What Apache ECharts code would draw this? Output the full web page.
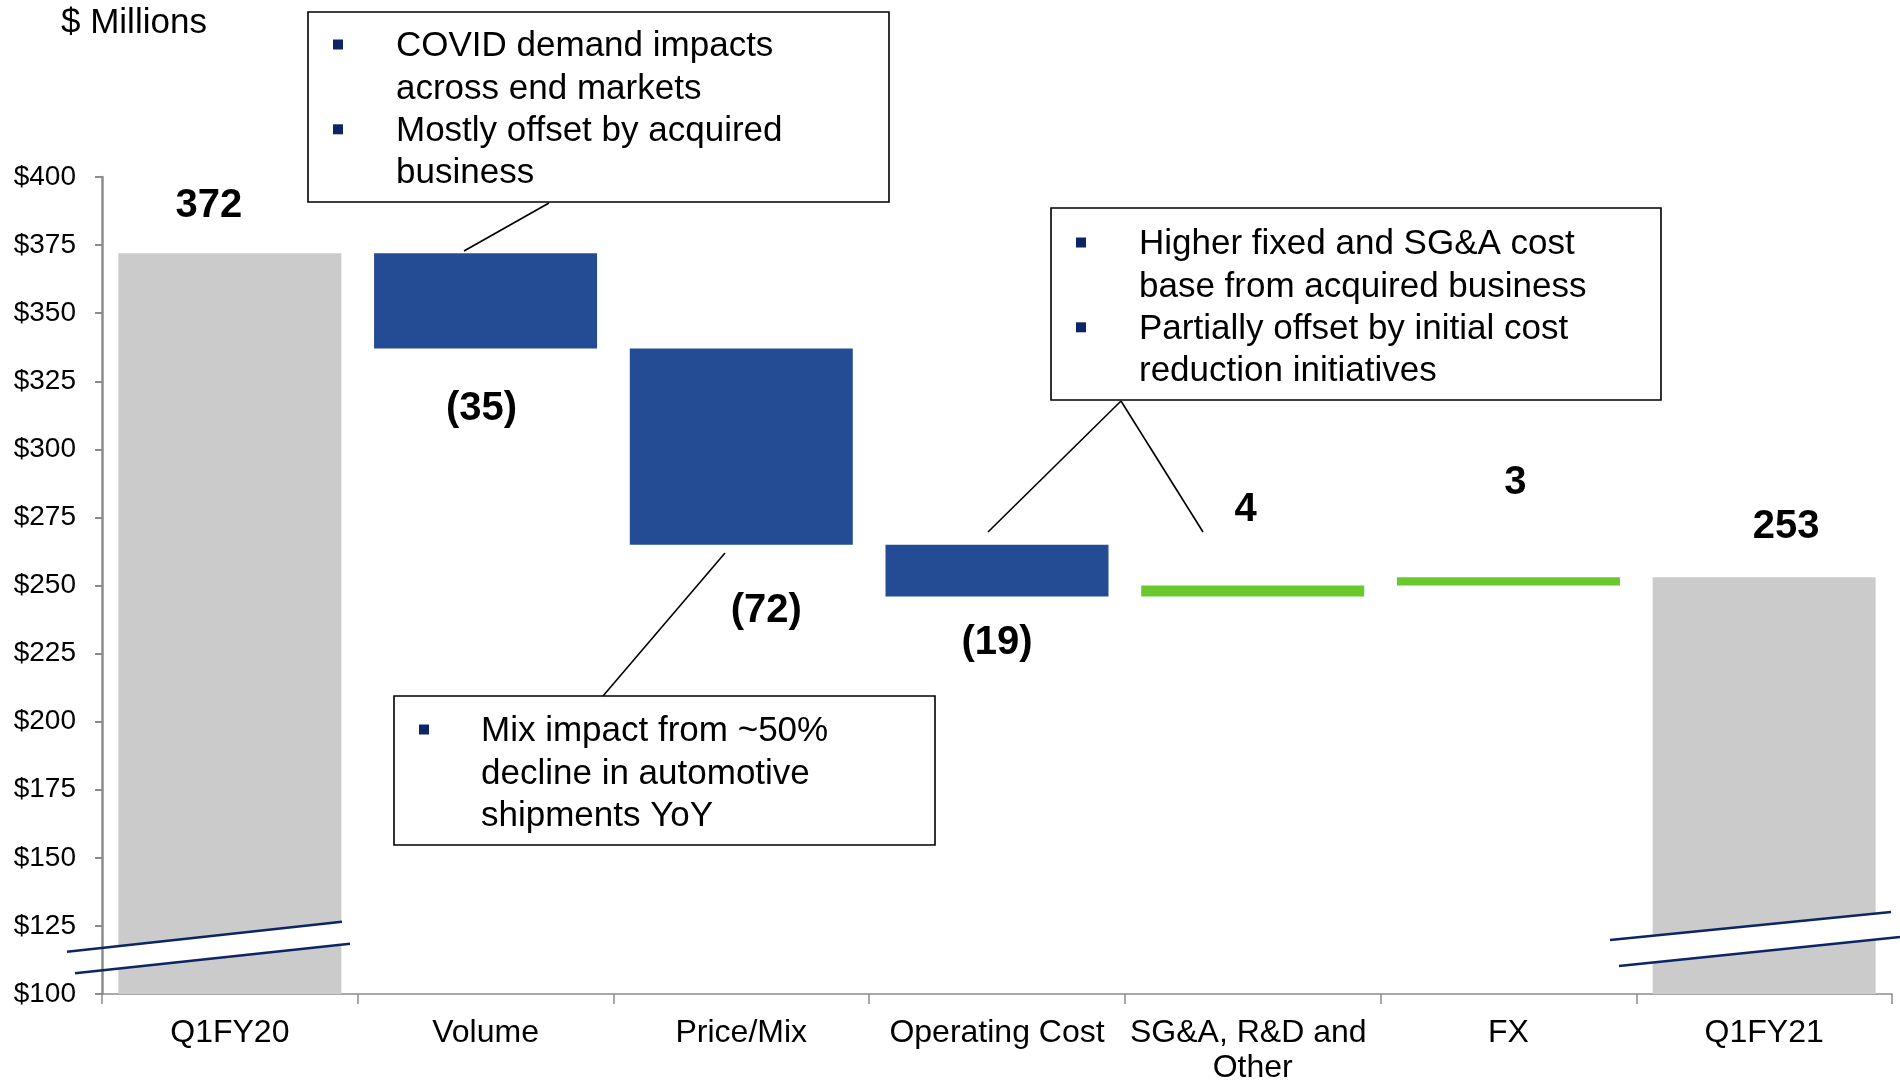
<!DOCTYPE html>
<html>
<head>
<meta charset="utf-8">
<script src="https://cdn.jsdelivr.net/npm/echarts@6/dist/echarts.min.js"></script>
<style>
html,body{margin:0;padding:0;background:#fff;}
#chart{width:1900px;height:1086px;}
</style>
</head>
<body>
<div id="chart"></div>
<script>
// ---- Data ----
const categories = ['Q1FY20', 'Volume', 'Price/Mix', 'Operating Cost', 'SG&A, R&D and Other', 'FX', 'Q1FY21'];
const kinds = ['total', 'delta', 'delta', 'delta', 'delta', 'delta', 'total'];
const values = [372, -35, -72, -19, 4, 3, 253];
const valueLabels = ['372', '(35)', '(72)', '(19)', '4', '3', '253'];
const yTicks = [100, 400, 25]; // min, max, interval
const unitTitle = '$ Millions';
const notes = [
  [['COVID demand impacts', 'across end markets'], ['Mostly offset by acquired', 'business']],
  [['Higher fixed and SG&A cost', 'base from acquired business'], ['Partially offset by initial cost', 'reduction initiatives']],
  [['Mix impact from ~50%', 'decline in automotive', 'shipments YoY']]
];

// ---- Styles ----
const FONT = '"Liberation Sans", Arial, sans-serif';
const GRAY = '#CBCBCB', BLUE = '#234C94', GREEN = '#68C82C', NAVY = '#0D2465';
// label nudges [dx, distance]
const labelNudge = [[-21, 27], [-4, 40], [25, 46], [0, 27], [-7, 56], [7, 74], [22, 30]];

// ---- Waterfall build ----
const baseData = [], barData = [];
let running = 0;
values.forEach((v, i) => {
  let lo, hi, color;
  if (kinds[i] === 'total') {
    lo = 0; hi = v; running = v; color = GRAY;
  } else {
    const next = running + v;
    lo = Math.min(running, next); hi = Math.max(running, next);
    running = next; color = v < 0 ? BLUE : GREEN;
  }
  baseData.push(lo);
  const below = kinds[i] === 'delta' && values[i] < 0;
  barData.push({
    value: hi - lo,
    itemStyle: { color: color },
    label: {
      show: true,
      position: below ? 'bottom' : 'top',
      distance: labelNudge[i][1],
      offset: [labelNudge[i][0], 0],
      formatter: valueLabels[i]
    }
  });
});

// ---- Annotation graphics ----
const graphics = [];
function addBox(x1, y1, x2, y2) {
  graphics.push({ type: 'rect', z: 100, shape: { x: x1, y: y1, width: x2 - x1, height: y2 - y1 },
    style: { fill: '#fff', stroke: '#000', lineWidth: 1.6 } });
}
function addLine(x1, y1, x2, y2, color, w) {
  graphics.push({ type: 'line', z: 101, shape: { x1, y1, x2, y2 }, style: { stroke: color || '#000', lineWidth: w || 1.6 } });
}
function addNote(items, bulletX, textX, firstY, lineH) {
  let y = firstY;
  items.forEach(lines => {
    graphics.push({ type: 'rect', z: 102, shape: { x: bulletX - 5, y: y - 7, width: 10, height: 10 }, style: { fill: NAVY } });
    lines.forEach(t => {
      graphics.push({ type: 'text', z: 102, style: { text: t, x: textX, y: y, fill: '#000', font: '35px ' + FONT, verticalAlign: 'middle', align: 'left' } });
      y += lineH;
    });
  });
}
addBox(308, 12, 889, 202);
addNote(notes[0], 338, 396, 46.5, 42.4);
addLine(549, 203, 464, 251);

addBox(1051, 208, 1661, 400);
addNote(notes[1], 1081, 1139, 244.5, 42.4);
addLine(1121, 401, 988, 532);
addLine(1121, 401, 1203, 532);

addBox(394, 696, 935, 845);
addNote(notes[2], 424, 481, 731.5, 42.4);
addLine(725, 553, 603, 696);

// unit title
graphics.push({ type: 'text', z: 102, style: { text: unitTitle, x: 61, y: 23, fill: '#000', font: '35px ' + FONT, verticalAlign: 'middle', align: 'left' } });

// axis break marks
graphics.push({ type: 'polygon', z: 90, shape: { points: [[104, 947.6], [346, 921.3], [346, 944.1], [104, 970.2]] }, style: { fill: '#fff' } });
addLine(67, 951.7, 342, 921.7, NAVY, 2.5);
addLine(75, 973.3, 350, 943.8, NAVY, 2.5);
graphics.push({ type: 'polygon', z: 90, shape: { points: [[1610, 940], [1900, 911], [1900, 937], [1619, 966]] }, style: { fill: '#fff' } });
addLine(1610, 940, 1891, 912, NAVY, 2.5);
addLine(1619, 966, 1900, 937, NAVY, 2.5);

// ---- Chart ----
const chart = echarts.init(document.getElementById('chart'), null, { renderer: 'canvas' });
chart.setOption({
  animation: false,
  backgroundColor: '#fff',
  grid: { left: 102, right: 8, top: 177, bottom: 92, containLabel: false },
  xAxis: {
    type: 'category',
    data: categories,
    axisLine: { lineStyle: { color: '#8C8C8C', width: 1.5 } },
    axisTick: { show: true, length: 10, lineStyle: { color: '#8C8C8C', width: 1.5 } },
    axisLabel: { color: '#000', fontSize: 32, fontFamily: FONT, margin: 22, interval: 0,
      width: 250, overflow: 'break', lineHeight: 35 }
  },
  yAxis: {
    type: 'value',
    min: yTicks[0], max: yTicks[1], interval: yTicks[2],
    splitLine: { show: false },
    axisLine: { show: true, lineStyle: { color: '#8C8C8C', width: 2.5 } },
    axisTick: { show: true, length: 7, lineStyle: { color: '#8C8C8C', width: 2 } },
    axisLabel: { color: '#000', fontSize: 28, fontFamily: FONT, margin: 26, formatter: v => '$' + v }
  },
  series: [
    { type: 'bar', stack: 'w', data: baseData, itemStyle: { color: 'rgba(0,0,0,0)' }, barWidth: 223, silent: true },
    { type: 'bar', stack: 'w', data: barData, barWidth: 223,
      label: { color: '#000', fontSize: 40, fontWeight: 'bold', fontFamily: FONT } }
  ],
  graphic: graphics
});
</script>
</body>
</html>
